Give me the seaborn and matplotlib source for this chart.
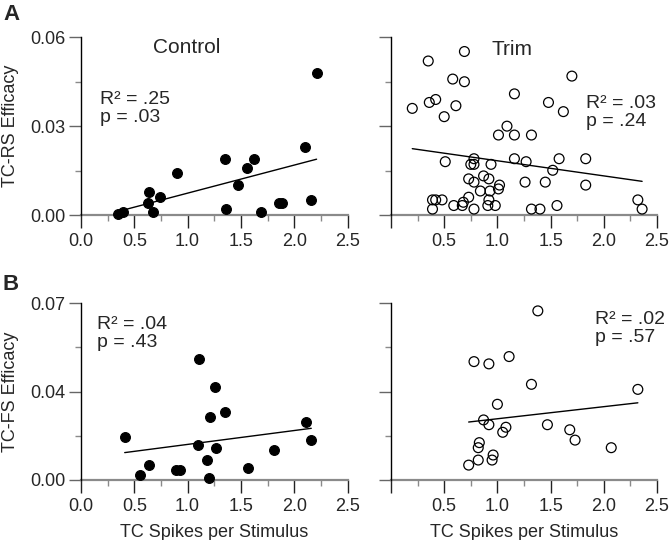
import numpy as np
import pandas as pd
import matplotlib
matplotlib.use("Agg")
import matplotlib.pyplot as plt
import seaborn as sns
from matplotlib.ticker import MultipleLocator, FixedLocator

# ---- data ----
ctrl_rs_x = [0.35, 0.39, 0.64, 0.63, 0.68, 0.74, 0.90, 1.35, 1.36, 1.47, 1.56, 1.62, 1.69, 1.86, 1.89, 2.10, 2.16, 2.21]
ctrl_rs_y = [0.0002, 0.0011, 0.0079, 0.0042, 0.0011, 0.0060, 0.0142, 0.0190, 0.0020, 0.0101, 0.0160, 0.0190, 0.0011, 0.0040, 0.0040, 0.0230, 0.0050, 0.0480]

trim_rs_x = [0.20, 0.35, 0.36, 0.42, 0.58, 0.69, 0.69, 0.61, 0.50, 0.51, 0.39, 0.42, 0.48, 0.39, 0.59, 0.67,
             0.68, 0.73, 0.78, 0.78, 0.75, 0.78, 0.94, 0.73, 0.78, 0.87, 0.92, 0.84, 0.93, 0.92, 0.91, 0.98,
             1.01, 1.02, 1.01, 1.09, 1.16, 1.16, 1.16, 1.27, 1.32, 1.26, 1.32, 1.40, 1.45, 1.48, 1.52, 1.56,
             1.58, 1.62, 1.70, 1.83, 1.83, 2.32, 2.36]
trim_rs_y = [0.0360, 0.0520, 0.0380, 0.0390, 0.0459, 0.0552, 0.0450, 0.0369, 0.0332, 0.0180, 0.0051, 0.0051,
             0.0051, 0.0020, 0.0032, 0.0032, 0.0043, 0.0060, 0.0020, 0.0190, 0.0171, 0.0171, 0.0171, 0.0122,
             0.0111, 0.0132, 0.0122, 0.0081, 0.0081, 0.0051, 0.0032, 0.0032, 0.0088, 0.0101, 0.0270, 0.0300,
             0.0270, 0.0409, 0.0190, 0.0180, 0.0270, 0.0111, 0.0020, 0.0020, 0.0111, 0.0380, 0.0151, 0.0032,
             0.0190, 0.0349, 0.0469, 0.0190, 0.0101, 0.0051, 0.0020]

ctrl_fs_x = [0.41, 0.55, 0.64, 0.89, 0.93, 1.11, 1.10, 1.18, 1.20, 1.21, 1.26, 1.27, 1.35, 1.57, 1.81, 2.11, 2.16]
ctrl_fs_y = [0.0169, 0.0020, 0.0059, 0.0038, 0.0038, 0.0479, 0.0140, 0.0079, 0.0008, 0.0251, 0.0370, 0.0128,
             0.0269, 0.0049, 0.0120, 0.0228, 0.0158]

trim_fs_x = [0.73, 0.82, 0.82, 0.83, 0.95, 0.96, 0.78, 0.92, 1.11, 0.87, 0.92, 1.00, 1.08, 1.05, 1.32, 1.38,
             1.47, 1.68, 1.73, 2.07, 2.32]
trim_fs_y = [0.0059, 0.0079, 0.0128, 0.0148, 0.0079, 0.0099, 0.0469, 0.0460, 0.0489, 0.0238, 0.0219, 0.0300,
             0.0209, 0.0189, 0.0379, 0.0670, 0.0219, 0.0199, 0.0158, 0.0128, 0.0359]

x_ticks = [0.0, 0.5, 1.0, 1.5, 2.0, 2.5]
x_labels_left = ["0.0", "0.5", "1.0", "1.5", "2.0", "2.5"]
x_labels_right = ["", "0.5", "1.0", "1.5", "2.0", "2.5"]
rs_ticks = [0.0, 0.03, 0.06]
rs_labels = ["0.00", "0.03", "0.06"]
fs_ticks = [0.0, 0.035, 0.07]
fs_labels = ["0.00", "0.04", "0.07"]

titles = ["Control", "Trim"]
stats = [["R\u00b2 = .25\np = .03", "R\u00b2 = .03\np = .24"],
         ["R\u00b2 = .04\np = .43", "R\u00b2 = .02\np = .57"]]

# ---- style ----
sns.set_style("ticks")
plt.rcParams['font.family'] = ['Liberation Sans', 'DejaVu Sans']
plt.rcParams['axes.linewidth'] = 1.0

fig = plt.figure(figsize=(6.69, 5.40), dpi=100)
W, H = 669, 540
def box(x0, x1, ytop, ybot):
    return [x0 / W, 1 - ybot / H, (x1 - x0) / W, (ybot - ytop) / H]

ax_A1 = fig.add_axes(box(81, 347.5, 37.3, 215))
ax_A2 = fig.add_axes(box(391, 657, 37.3, 215))
ax_B1 = fig.add_axes(box(81, 347.5, 303.3, 480))
ax_B2 = fig.add_axes(box(391, 657, 303.3, 480))

panels = [
    (ax_A1, ctrl_rs_x, ctrl_rs_y, True, True, rs_ticks, rs_labels),
    (ax_A2, trim_rs_x, trim_rs_y, False, False, rs_ticks, rs_labels),
    (ax_B1, ctrl_fs_x, ctrl_fs_y, True, True, fs_ticks, fs_labels),
    (ax_B2, trim_fs_x, trim_fs_y, False, False, fs_ticks, fs_labels),
]

GREY = "#8a8a8a"
for ax, xs, ys, filled, left, yt, yl in panels:
    df = pd.DataFrame({"x": xs, "y": ys})
    if filled:
        sk = dict(s=50, color="black", edgecolors="black", linewidths=0.8, alpha=1, clip_on=False, zorder=3)
    else:
        sk = dict(s=50, facecolors="none", edgecolors="black", linewidths=0.9, alpha=1, clip_on=False, zorder=3)
    sns.regplot(data=df, x="x", y="y", ax=ax, ci=None, scatter_kws=sk,
                line_kws=dict(color="black", lw=1.0), truncate=True)
    ax.set_xlim(0, 2.5)
    ax.set_ylim(yt[0], yt[-1])
    ax.set_xlabel("")
    ax.set_ylabel("")
    sns.despine(ax=ax)
    ax.spines["bottom"].set_color(GREY)
    ax.spines["bottom"].set_linewidth(1.6)
    ax.spines["left"].set_color("black")
    ax.spines["left"].set_zorder(2.6)
    ax.set_xticks(x_ticks)
    ax.set_xticklabels(x_labels_left if left else x_labels_right)
    ax.xaxis.set_minor_locator(MultipleLocator(0.25))
    ax.set_yticks(yt)
    ax.set_yticklabels(yl if left else [""] * len(yl))
    step = (yt[-1] - yt[0]) / 4
    ax.yaxis.set_minor_locator(FixedLocator([step, 3 * step]))
    ax.tick_params(axis="both", which="major", length=9, width=1.0, labelsize=13)
    ax.tick_params(axis="x", which="major", color="#222222", pad=4)
    ax.tick_params(axis="y", which="major", color="#666666", pad=2)
    ax.tick_params(axis="both", which="minor", length=4.5, width=1.0, color=GREY)

# titles
ax_A1.text(0.398, 0.94, titles[0], transform=ax_A1.transAxes, ha="center", va="center", fontsize=15)
ax_A2.text(0.455, 0.932, titles[1], transform=ax_A2.transAxes, ha="center", va="center", fontsize=15)

# stats
kw = dict(ha="left", va="center", fontsize=14, linespacing=1.05)
ax_A1.text(0.071, 0.60, stats[0][0], transform=ax_A1.transAxes, **kw)
ax_A2.text(0.733, 0.577, stats[0][1], transform=ax_A2.transAxes, **kw)
ax_B1.text(0.059, 0.83, stats[1][0], transform=ax_B1.transAxes, **kw)
ax_B2.text(0.767, 0.857, stats[1][1], transform=ax_B2.transAxes, **kw)

# axis labels
ax_A1.set_ylabel("TC-RS Efficacy", fontsize=13)
ax_A1.yaxis.set_label_coords(-0.232, 0.5)
ax_B1.set_ylabel("TC-FS Efficacy", fontsize=13)
ax_B1.yaxis.set_label_coords(-0.232, 0.5)
for ax in (ax_B1, ax_B2):
    ax.set_xlabel("TC Spikes per Stimulus", fontsize=13)
    ax.xaxis.set_label_coords(0.5, -0.25)

# panel letters
fig.text(11 / W, 1 - 15 / H, "A", fontsize=16, fontweight="bold", ha="center", va="center")
fig.text(11 / W, 1 - 284 / H, "B", fontsize=16, fontweight="bold", ha="center", va="center")

fig.savefig("out.png", dpi=100)
